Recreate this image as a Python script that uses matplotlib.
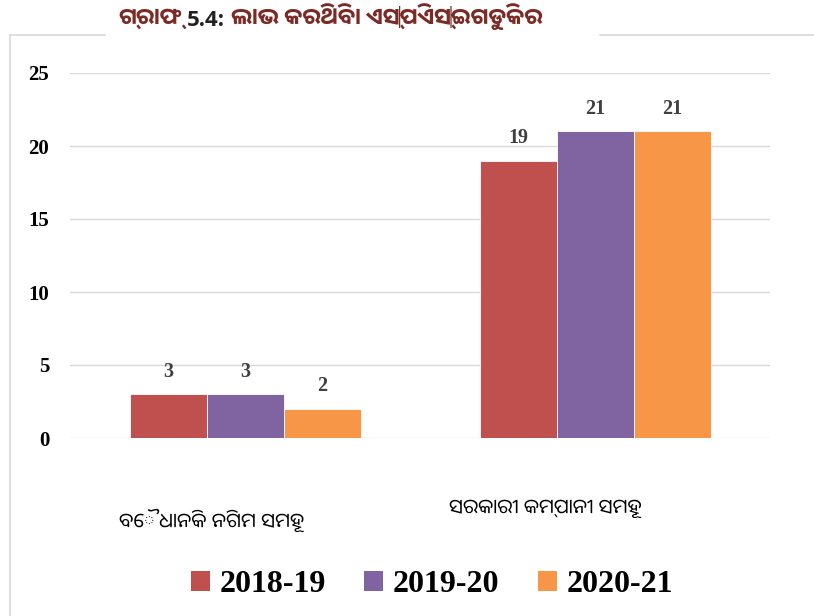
import matplotlib
matplotlib.use("Agg")
import matplotlib.pyplot as plt
import numpy as np
from matplotlib.lines import Line2D
from matplotlib.patches import Patch

# ==========================================
# Data
# ==========================================

title_a = "ଗ୍ରାଫ୍"
title_b = "5.4:"
title_c = "ଲାଭ କରିଥିବା ଏସ୍‌ପିଏସ୍‌ଇଗୁଡିକର"
categories = ["ବୈଧାନିକ ନିଗମ ସମୂହ", "ସରକାରୀ କମ୍ପାନୀ ସମୂହ"]
years = ["2018-19", "2019-20", "2020-21"]
v_2018 = [3, 19]
v_2019 = [3, 21]
v_2020 = [2, 21]
colors = ["#C0504D", "#8064A2", "#F79646"]

odia = ["Noto Sans Oriya UI", "Noto Sans Oriya", "Noto Sans", "DejaVu Sans"]
serif = ["Liberation Serif", "DejaVu Serif"]

# ==========================================
# Figure
# ==========================================

fig = plt.figure(figsize=(8.14, 6.16), dpi=100)
ax = fig.add_axes([70 / 814, 1 - 438 / 616, 700 / 814, 365 / 616])

x = np.arange(len(categories))
w = 0.22
series = [v_2018, v_2019, v_2020]

for i, vals in enumerate(series):
    bars = ax.bar(x + (i - 1) * w, vals, width=w, color=colors[i],
                  edgecolor="white", linewidth=0.6, zorder=3)
    for b, v in zip(bars, vals):
        ax.text(b.get_x() + b.get_width() / 2, v + 0.85, str(v),
                ha="center", va="bottom", fontsize=14.5, fontweight="bold",
                family=serif, color="#404040")

ax.set_xlim(-0.5, 1.5)
ax.set_ylim(0, 25)
ax.set_yticks([0, 5, 10, 15, 20, 25])
ax.yaxis.grid(True, color="#D9D9D9", linewidth=1, zorder=0)
ax.set_xticks([])
ax.tick_params(axis="y", length=0, pad=15)
for lab in ax.get_yticklabels():
    lab.set_fontfamily(serif)
    lab.set_fontweight("bold")
    lab.set_fontsize(15)
    lab.set_color("black")
for s in ax.spines.values():
    s.set_visible(False)

# category labels
fig.text(212 / 814, 1 - 522 / 616, categories[0], ha="center", va="center",
         fontsize=14.5, family=odia, color="black")
fig.text(545 / 814, 1 - 510 / 616, categories[1], ha="center", va="center",
         fontsize=14.5, family=odia, color="black")

# title, in three pieces (gap of ~6 px between them)
ty = 1 - 26 / 616
gap = 6
t1 = fig.text(118 / 814, ty, title_a, ha="left", va="baseline",
              fontsize=16.5, fontweight="bold", family=odia, color="#7B2B26")
t2 = fig.text(0, ty, title_b, ha="left", va="baseline", fontsize=16,
              fontweight="bold", family=["Open Sans", "DejaVu Sans"], color="#222222")
fig.canvas.draw()
r = fig.canvas.get_renderer()
bb1 = t1.get_window_extent(r)
t2.set_position(((bb1.x1 + gap) / fig.bbox.width, ty))
bb2 = t2.get_window_extent(r)
fig.text((bb2.x1 + gap) / fig.bbox.width, ty, title_c, ha="left", va="baseline",
         fontsize=16.5, fontweight="bold", family=odia, color="#7B2B26")

# frame lines
fig.add_artist(Line2D([10 / 814, 10 / 814], [0, 1 - 35 / 616],
                      transform=fig.transFigure, color="#D9D9D9", lw=1.2))
fig.add_artist(Line2D([10 / 814, 105 / 814], [1 - 35 / 616, 1 - 35 / 616],
                      transform=fig.transFigure, color="#D9D9D9", lw=1.2))
fig.add_artist(Line2D([600 / 814, 1], [1 - 35 / 616, 1 - 35 / 616],
                      transform=fig.transFigure, color="#D9D9D9", lw=1.2))

# legend
handles = [Patch(facecolor=c) for c in colors]
leg = fig.legend(handles, years, loc="center", bbox_to_anchor=(432 / 814, 1 - 585 / 616),
                 ncol=3, frameon=False, handlelength=0.6, handleheight=0.6,
                 handletextpad=0.3, columnspacing=1.2,
                 prop={"family": serif, "weight": "bold", "size": 23})

fig.savefig("out.png", dpi=100)
